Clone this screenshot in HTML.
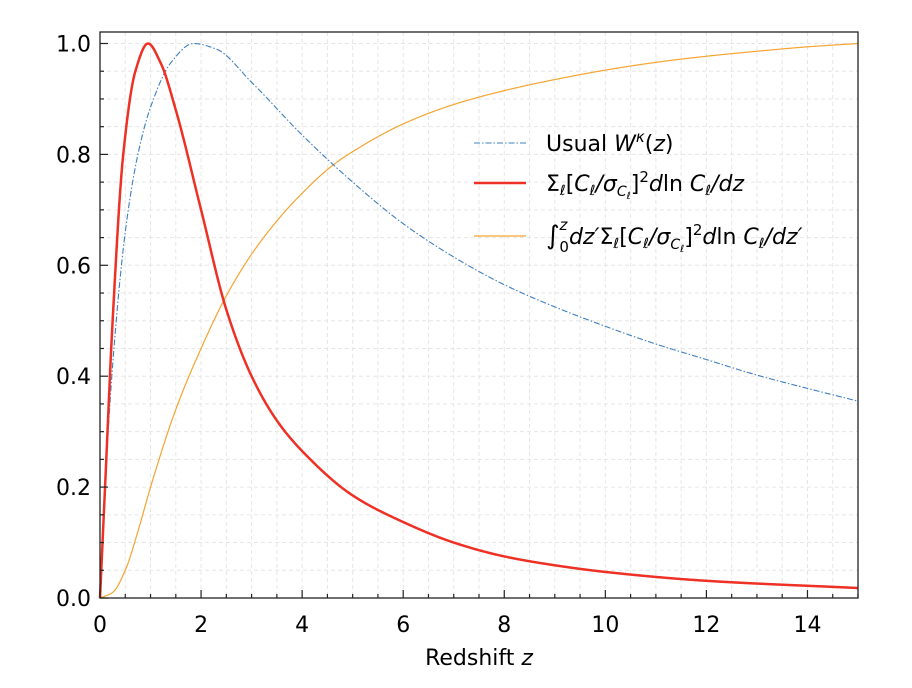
<!DOCTYPE html>
<html><head><meta charset="utf-8"><style>
body{margin:0;background:#fff;}
svg{display:block;font-family:"DejaVu Sans","Liberation Sans",sans-serif;}
</style></head><body>
<svg id="s" width="912" height="688" viewBox="0 0 912 688" xmlns="http://www.w3.org/2000/svg"></svg>
<script>
const S=document.getElementById('s');
const X0=100,X1=858,Y0=598,Y1=43.5,T=32;
const sx=z=>X0+(X1-X0)*z/15, sy=v=>Y0-(Y0-Y1)*v;
let h='';
for(let i=1;i<30;i++){const x=sx(i*0.5);h+=`<line x1="${x}" y1="${T}" x2="${x}" y2="${Y0}" stroke="#e6e6e6" stroke-width="1" stroke-dasharray="4,3"/>`;}
for(let i=1;i<=21;i++){const y=sy(i*0.05);if(y<T)continue;h+=`<line x1="${X0}" y1="${y}" x2="${X1}" y2="${y}" stroke="#e6e6e6" stroke-width="1" stroke-dasharray="4,3"/>`;}
function mono(pts){
  const n=pts.length,xs=pts.map(p=>p[0]),ys=pts.map(p=>p[1]);
  const d=[],m=[];
  for(let i=0;i<n-1;i++)d.push((ys[i+1]-ys[i])/(xs[i+1]-xs[i]));
  m[0]=d[0];m[n-1]=d[n-2];
  for(let i=1;i<n-1;i++){
    if(d[i-1]*d[i]<=0)m[i]=0;else{const w1=2*(xs[i+1]-xs[i])+(xs[i]-xs[i-1]),w2=(xs[i+1]-xs[i])+2*(xs[i]-xs[i-1]);m[i]=(w1+w2)/(w1/d[i-1]+w2/d[i]);}
  }
  return z=>{let i=0;while(i<n-2&&z>xs[i+1])i++;const hh=xs[i+1]-xs[i],t=(z-xs[i])/hh;
    const h00=2*t*t*t-3*t*t+1,h10=t*t*t-2*t*t+t,h01=-2*t*t*t+3*t*t,h11=t*t*t-t*t;
    return h00*ys[i]+h10*hh*m[i]+h01*ys[i+1]+h11*hh*m[i+1];};
}
function path(pts,st){
  const f=mono(pts);let d='';
  for(let k=0;k<=1500;k++){const z=k*0.01;d+=(k?'L':'M')+sx(z).toFixed(2)+','+sy(f(z)).toFixed(2);}
  return `<path d="${d}" fill="none" ${st}/>`;
}
const blue=[[0,0],[0.1,0.2],[0.25,0.42],[0.5,0.66],[0.75,0.8],[1,0.885],[1.4,0.965],[1.85,1.0],[2.3,0.99],[3,0.93],[4,0.835],[5,0.75],[6,0.675],[7,0.615],[8,0.565],[9,0.525],[10,0.49],[11,0.458],[12,0.43],[13,0.402],[14,0.378],[15,0.355]];
const red=[[0,0],[0.1,0.2],[0.25,0.5],[0.46,0.8],[0.7,0.95],[0.95,1.0],[1.2,0.965],[1.5,0.88],[2,0.70],[2.5,0.52],[3,0.40],[3.5,0.32],[4,0.265],[5,0.185],[6,0.137],[7,0.10],[8,0.075],[9,0.059],[10,0.047],[12,0.031],[15,0.018]];
const yel=[[0,0],[0.25,0.01],[0.5,0.05],[0.75,0.12],[1,0.2],[1.5,0.34],[2,0.45],[2.5,0.545],[3,0.62],[3.5,0.68],[4,0.73],[4.6,0.78],[5,0.805],[6,0.855],[7,0.89],[8,0.915],[9,0.935],[10,0.952],[11,0.966],[12,0.977],[13,0.986],[14,0.994],[15,1.0]];
h+=path(yel,'stroke="#f5a431" stroke-width="1.2"');
h+=path(blue,'stroke="#3f7fbf" stroke-width="1.1" stroke-dasharray="6,2,1.5,2"');
h+=path(red,'stroke="#ee3124" stroke-width="2.5"');
h+=`<rect x="${X0}" y="${T}" width="${X1-X0}" height="${Y0-T}" fill="none" stroke="#222" stroke-width="1.3"/>`;
for(let i=0;i<=30;i++){const x=sx(i*0.5),L=i%4==0?8:4;h+=`<line x1="${x}" y1="${Y0}" x2="${x}" y2="${Y0-L}" stroke="#222" stroke-width="1.2"/>`;}
for(let i=0;i<=20;i++){const y=sy(i*0.05),L=i%4==0?8:4;h+=`<line x1="${X0}" y1="${y}" x2="${X0+L}" y2="${y}" stroke="#222" stroke-width="1.2"/>`;}
for(let i=0;i<=7;i++){h+=`<text x="${sx(i*2)}" y="632" font-size="22" text-anchor="middle">${i*2}</text>`;}
for(let i=0;i<=5;i++){h+=`<text x="91" y="${sy(i*0.2)+8}" font-size="22" text-anchor="end">${(i*0.2).toFixed(1)}</text>`;}
h+=`<text x="479" y="665" font-size="22" text-anchor="middle">Redshift <tspan font-style="italic">z</tspan></text>`;
h+=`<line x1="474" y1="143" x2="526" y2="143" stroke="#3f7fbf" stroke-width="1.1" stroke-dasharray="6,2,1.5,2"/>`;
h+=`<line x1="474" y1="183" x2="526" y2="183" stroke="#ee3124" stroke-width="2.5"/>`;
h+=`<line x1="474" y1="236" x2="526" y2="236" stroke="#f5a431" stroke-width="1.2"/>`;
h+=`<text x="546" y="151" font-size="22">Usual <tspan font-style="italic">W</tspan><tspan font-style="italic" font-size="15" dy="-9">κ</tspan><tspan dy="9">(</tspan><tspan font-style="italic">z</tspan>)</text>`;
h+=`<text x="546" y="191" font-size="22">Σ<tspan font-style="italic" font-size="14" dy="4">ℓ</tspan><tspan dy="-4">[</tspan><tspan font-style="italic">C</tspan><tspan font-style="italic" font-size="14" dy="4">ℓ</tspan><tspan dy="-4" font-style="italic">/σ</tspan><tspan font-style="italic" font-size="14" dy="5">C</tspan><tspan font-style="italic" font-size="10" dy="3">ℓ</tspan><tspan dy="-8">]</tspan><tspan font-size="15" dy="-9">2</tspan><tspan dy="9" font-style="italic">d</tspan>ln <tspan font-style="italic">C</tspan><tspan font-style="italic" font-size="14" dy="4">ℓ</tspan><tspan dy="-4" font-style="italic">/dz</tspan></text>`;
h+=`<text x="546" y="244" font-size="22"><tspan font-size="26">∫</tspan><tspan font-style="italic" font-size="15" dy="-14">z</tspan><tspan font-size="15" dx="-8" dy="22">0</tspan><tspan dy="-8" font-style="italic">dz′</tspan>Σ<tspan font-style="italic" font-size="14" dy="4">ℓ</tspan><tspan dy="-4">[</tspan><tspan font-style="italic">C</tspan><tspan font-style="italic" font-size="14" dy="4">ℓ</tspan><tspan dy="-4" font-style="italic">/σ</tspan><tspan font-style="italic" font-size="14" dy="5">C</tspan><tspan font-style="italic" font-size="10" dy="3">ℓ</tspan><tspan dy="-8">]</tspan><tspan font-size="15" dy="-9">2</tspan><tspan dy="9" font-style="italic">d</tspan>ln <tspan font-style="italic">C</tspan><tspan font-style="italic" font-size="14" dy="4">ℓ</tspan><tspan dy="-4" font-style="italic">/dz′</tspan></text>`;
S.innerHTML=h;
</script>
</body></html>
